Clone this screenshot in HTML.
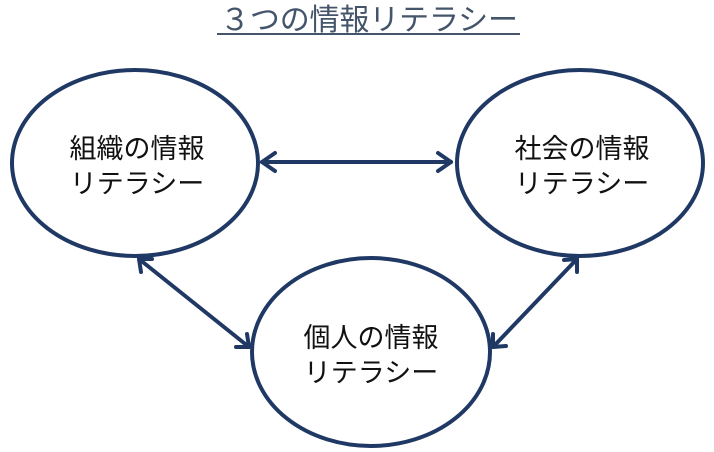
<!DOCTYPE html>
<html><head><meta charset="utf-8"><style>
html,body{margin:0;padding:0;background:#fff;width:714px;height:452px;overflow:hidden}
</style></head><body>
<svg width="714" height="452" viewBox="0 0 714 452" xmlns="http://www.w3.org/2000/svg">
<text x="369" y="30" text-anchor="middle" font-family="Liberation Sans, Noto Sans CJK JP, sans-serif" font-size="30" fill="#44546a" textLength="298" lengthAdjust="spacing">３つの情報リテラシー</text>
<line x1="217" y1="34" x2="520" y2="34" stroke="#44546a" stroke-width="2"/>
<g fill="none" stroke="#1f3864" stroke-width="4">
<ellipse cx="135" cy="163" rx="123" ry="93"/>
<ellipse cx="580" cy="163" rx="123" ry="93"/>
<ellipse cx="371" cy="352" rx="119" ry="94"/>
</g>
<g fill="none" stroke="#1f3864" stroke-width="4" stroke-linecap="round" stroke-linejoin="round">
<line x1="262" y1="162" x2="451" y2="162"/>
<polyline points="275,153 262,162 275,171"/>
<polyline points="438,153 451,162 438,171"/>
<line x1="139" y1="259" x2="249" y2="347"/>
<polyline points="141,272 139,259 152,259"/>
<polyline points="236,347 249,347 247,334"/>
<line x1="577" y1="259" x2="493" y2="347"/>
<polyline points="564,260 577,259 577,272"/>
<polyline points="493,334 493,347 506,346"/>
</g>
<g font-family="Liberation Sans, Noto Sans CJK JP, sans-serif" font-size="27" fill="#111" text-anchor="middle">
<text x="137" y="158">組織の情報</text>
<text x="137" y="193">リテラシー</text>
<text x="582" y="158">社会の情報</text>
<text x="582" y="193">リテラシー</text>
<text x="371" y="347">個人の情報</text>
<text x="371" y="382">リテラシー</text>
</g>
</svg>
</body></html>
